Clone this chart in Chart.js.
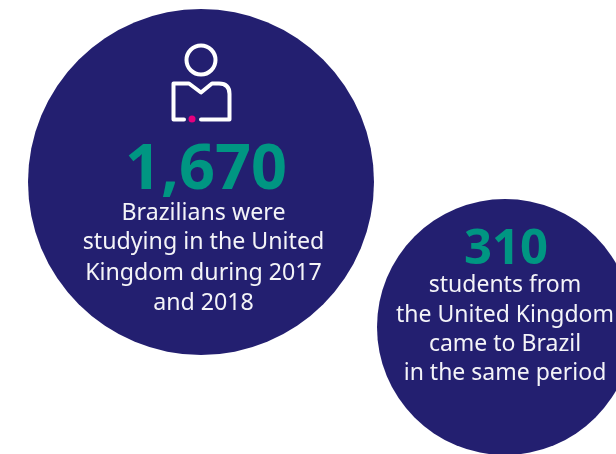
<!DOCTYPE html>
<html>
<head>
<meta charset="utf-8">
<title>Student mobility</title>
<script src="https://cdn.jsdelivr.net/npm/chart.js@4"></script>
<style>
    html, body { margin: 0; padding: 0; background: #fff; overflow: hidden; }
    #wrap { width: 616px; height: 454px; position: relative; }
</style>
</head>
<body>
<div id="wrap"><canvas id="mobilidad"></canvas></div>
<script>
const studentCounts = [1670, 310];
const countLabels = ['1,670', '310'];
const captions = [
    ['Brazilians were', 'studying in the United', 'Kingdom during 2017', 'and 2018'],
    ['students from', 'the United Kingdom', 'came to Brazil', 'in the same period']
];

const NAVY = '#231f70';
const TEAL = '#009682';
const FONT = '"Noto Sans", sans-serif';

// Sitio de cada burbuja dentro del lienzo
const layout = [
    { x: 201, y: 182, r: 173, numberX: 206, numberY: 189, numberSize: 63, captionX: 203.5, captionY: [220, 249, 280, 310], captionSize: 23.2 },
    { x: 505, y: 327, r: 128, numberX: 506, numberY: 264, numberSize: 49, captionX: 505, captionY: [292, 322, 351, 380], captionSize: 23 }
];

function drawReaderIcon(ctx) {
    ctx.save();
    ctx.strokeStyle = '#fff';
    ctx.lineWidth = 4;
    ctx.lineCap = 'round';
    ctx.lineJoin = 'round';

    ctx.beginPath();
    ctx.arc(201, 60, 14.5, 0, Math.PI * 2);
    ctx.stroke();

    ctx.beginPath();
    ctx.moveTo(184, 119.5);
    ctx.lineTo(173.5, 119.5);
    ctx.lineTo(173.5, 83.5);
    ctx.lineTo(189, 83.5);
    ctx.lineTo(201, 92.5);
    ctx.lineTo(212, 83.5);
    ctx.lineTo(219, 83.5);
    ctx.quadraticCurveTo(229.5, 83.5, 229.5, 94);
    ctx.lineTo(229.5, 119.5);
    ctx.lineTo(201, 119.5);
    ctx.stroke();

    ctx.fillStyle = '#e6007e';
    ctx.beginPath();
    ctx.arc(192, 119, 3.5, 0, Math.PI * 2);
    ctx.fill();
    ctx.restore();
}

const bubbleText = {
    id: 'bubbleText',
    afterDatasetsDraw(chart) {
        const ctx = chart.ctx;
        ctx.save();
        ctx.textAlign = 'center';
        ctx.textBaseline = 'alphabetic';
        layout.forEach((pos, i) => {
            ctx.fillStyle = TEAL;
            ctx.font = 'bold ' + pos.numberSize + 'px ' + FONT;
            ctx.fillText(countLabels[i], pos.numberX, pos.numberY);

            ctx.fillStyle = '#f4f4f8';
            ctx.font = pos.captionSize + 'px ' + FONT;
            captions[i].forEach((line, n) => {
                ctx.fillText(line, pos.captionX, pos.captionY[n]);
            });
        });
        ctx.restore();
        drawReaderIcon(ctx);
    }
};

new Chart(document.getElementById('mobilidad'), {
    type: 'bubble',
    data: {
        datasets: [{
            label: 'Students',
            data: studentCounts.map((v, i) => ({ x: layout[i].x, y: layout[i].y, r: layout[i].r, students: v })),
            backgroundColor: NAVY,
            borderWidth: 0,
            hoverBorderWidth: 0,
            clip: false
        }]
    },
    options: {
        responsive: true,
        maintainAspectRatio: false,
        animation: false,
        // sin esto el área se encoge por el radio de la burbuja mayor
        layout: { padding: 0, autoPadding: false },
        plugins: { legend: { display: false }, tooltip: { enabled: false } },
        scales: {
            x: { type: 'linear', display: false, min: 0, max: 616 },
            y: { type: 'linear', display: false, min: 0, max: 454, reverse: true }
        }
    },
    plugins: [bubbleText]
});
</script>
</body>
</html>
